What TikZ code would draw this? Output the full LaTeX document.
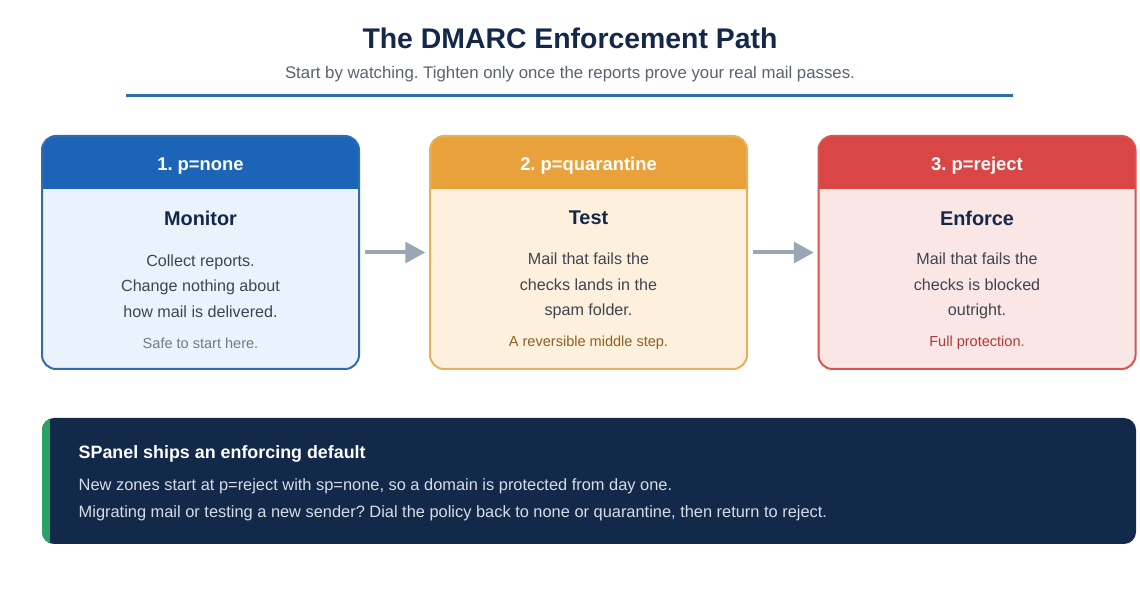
\documentclass[tikz,border=0pt]{standalone}
\usepackage{fontspec}
\setmainfont{Liberation Sans}
\frenchspacing
\usetikzlibrary{positioning, calc, arrows.meta}
\definecolor{navy}{HTML}{14284A}
\definecolor{subgrey}{HTML}{5A6270}
\definecolor{rulecol}{HTML}{2A6DB5}
\definecolor{nonehead}{HTML}{1C64B8}
\definecolor{noneline}{HTML}{2F6DB0}
\definecolor{nonebody}{HTML}{EAF2FC}
\definecolor{quarhead}{HTML}{E9A23B}
\definecolor{quarline}{HTML}{E7B257}
\definecolor{quarbody}{HTML}{FDF0DC}
\definecolor{rejhead}{HTML}{D94646}
\definecolor{rejline}{HTML}{D9534F}
\definecolor{rejbody}{HTML}{FBE6E6}
\definecolor{bodytext}{HTML}{3D4550}
\definecolor{arrowgrey}{HTML}{9AA6B5}
\definecolor{panelbg}{HTML}{13294A}
\definecolor{panelbar}{HTML}{27A36A}
\definecolor{paneltext}{HTML}{D6DDE7}
\tikzset{
  stepbox/.style={draw, line width=1.5pt, rounded corners=10.5pt, outer sep=0pt,
    minimum width=237.75pt, minimum height=174.75pt,
    path picture={\fill[#1, sharp corners] (path picture bounding box.north west)
      rectangle ([yshift=-39.75pt]path picture bounding box.north east);}},
  headtext/.style={text=white, font=\fontsize{13.8}{16}\selectfont\bfseries},
  steptitle/.style={text=navy, font=\fontsize{14.9}{17}\selectfont\bfseries},
  steptext/.style={text=bodytext, align=center, font=\fontsize{12.1}{19.1}\selectfont},
  stepnote/.style={font=\fontsize{10.9}{13}\selectfont},
  flow/.style={arrowgrey, line width=3pt, -{Triangle[length=15pt, width=15.5pt]},
    shorten <=4.5pt, shorten >=3.5pt},
  paneltxt/.style={anchor=west, text=paneltext, font=\fontsize{12.3}{14}\selectfont}
}
\begin{document}
\begin{tikzpicture}[x=0.75pt, y=-0.75pt]
  \useasboundingbox[fill=white] (0,0) rectangle (1140,591);
  % heading
  \node[text=navy, font=\fontsize{21.3}{25}\selectfont\bfseries] (title) at (570,38) {The DMARC Enforcement Path};
  \node[text=subgrey, font=\fontsize{12.6}{15}\selectfont] (subtitle) at (570,74) {Start by watching. Tighten only once the reports prove your real mail passes.};
  \coordinate (ruleL) at (126,96);
  \coordinate (ruleR) at (1013,96);
  \draw[rulecol, line width=2.25pt] (ruleL) -- (ruleR);
  % step 1
  \node[stepbox=nonehead, draw=noneline, fill=nonebody] (none) at (200.5,252.5) {};
  \node[headtext] (noneHead) at ([yshift=-22.5pt]none.north) {1. p=none};
  \node[steptitle] (noneTitle) at ([yshift=-61.5pt]none.north) {Monitor};
  \node[steptext] (noneText) at ([yshift=-112.5pt]none.north) {Collect reports.\\Change nothing about\\how mail is delivered.};
  \node[stepnote, text=subgrey!85] (noneNote) at ([yshift=-155.25pt]none.north) {Safe to start here.};
  % step 2
  \node[stepbox=quarhead, draw=quarline, fill=quarbody] (quar) at (588.5,252.5) {};
  \node[headtext] (quarHead) at ([yshift=-22.5pt]quar.north) {2. p=quarantine};
  \node[steptitle] (quarTitle) at ([yshift=-61.5pt]quar.north) {Test};
  \node[steptext] (quarText) at ([yshift=-112.5pt]quar.north) {Mail that fails the\\checks lands in the\\spam folder.};
  \node[stepnote, text=quarhead!60!black] (quarNote) at ([yshift=-155.25pt]quar.north) {A reversible middle step.};
  % step 3
  \node[stepbox=rejhead, draw=rejline, fill=rejbody] (rej) at (977,252.5) {};
  \node[headtext] (rejHead) at ([yshift=-22.5pt]rej.north) {3. p=reject};
  \node[steptitle] (rejTitle) at ([yshift=-61.5pt]rej.north) {Enforce};
  \node[steptext] (rejText) at ([yshift=-112.5pt]rej.north) {Mail that fails the\\checks is blocked\\outright.};
  \node[stepnote, text=rejhead!80!black] (rejNote) at ([yshift=-155.25pt]rej.north) {Full protection.};
  % arrows
  \draw[flow] (none) -- (quar);
  \draw[flow] (quar) -- (rej);
  % bottom panel
  \node[fill=panelbg, rounded corners=9pt, outer sep=0pt, minimum width=820.5pt, minimum height=94.5pt,
    path picture={\fill[panelbar, sharp corners] (path picture bounding box.north west)
      rectangle ([xshift=6pt]path picture bounding box.south west);}] (panel) at (589,481) {};
  \node[paneltxt, text=white, font=\fontsize{13.4}{16}\selectfont\bfseries] (panelTitle) at (74,454) {SPanel ships an enforcing default};
  \node[paneltxt] (panelOne) at (74,486) {New zones start at p=reject with sp=none, so a domain is protected from day one.};
  \node[paneltxt] (panelTwo) at (74,513) {Migrating mail or testing a new sender? Dial the policy back to none or quarantine, then return to reject.};
\end{tikzpicture}
\end{document}
